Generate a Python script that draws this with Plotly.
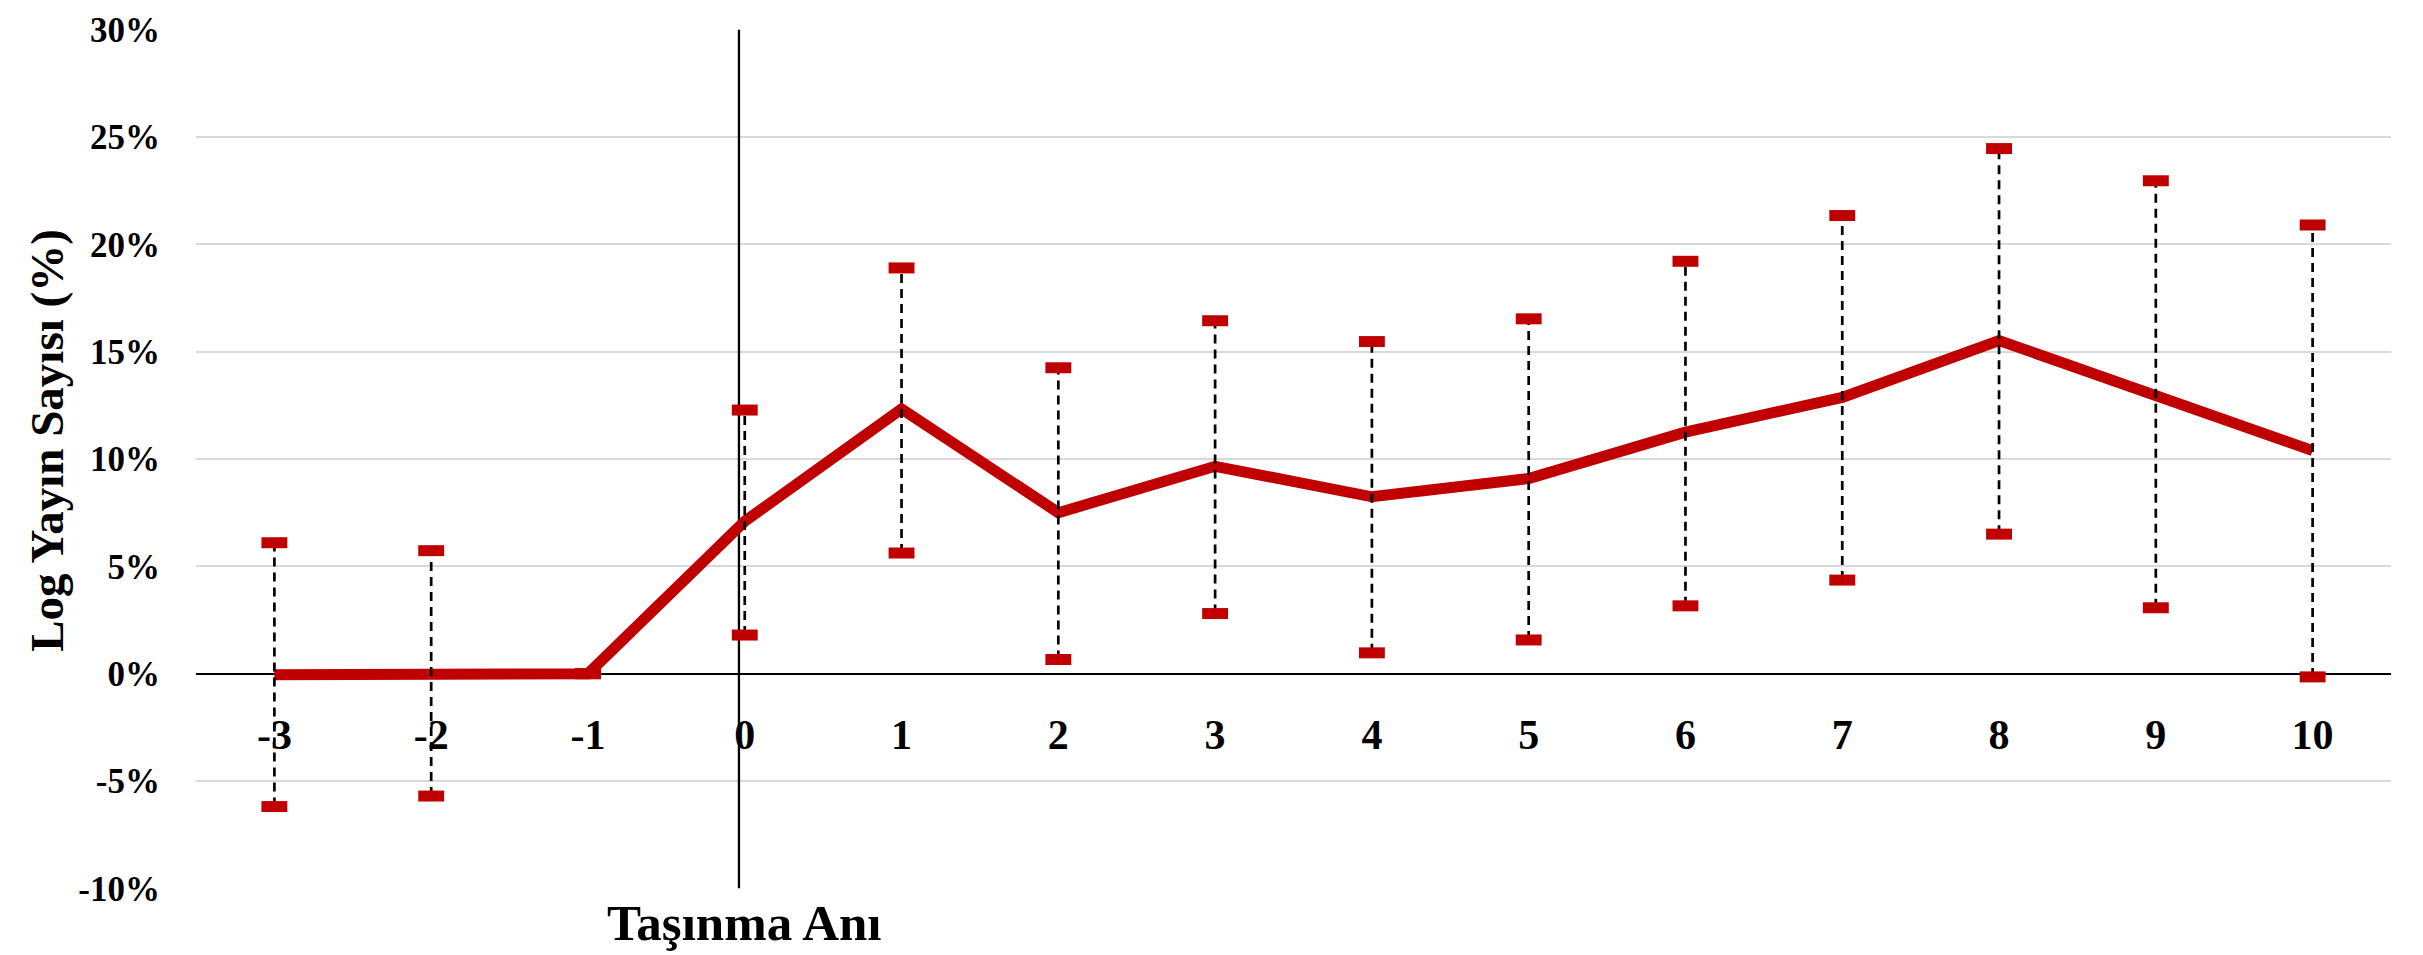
import plotly.graph_objects as go

# dönem (taşınmaya göre yıl) ve log yayın sayısı (%)
periyot = [-3, -2, -1, 0, 1, 2, 3, 4, 5, 6, 7, 8, 9, 10]
periyot_etiket = ["-3", "-2", "-1", "0", "1", "2", "3", "4", "5", "6", "7", "8", "9", "10"]
ortalama = [-0.05, 0.0, 0.0, 7.1, 12.33, 7.5, 9.66, 8.24, 9.09, 11.25, 12.87, 15.52, 12.97, 10.39]
alt_sinir = [-6.19, -5.70, 0.0, 1.80, 5.62, 0.66, 2.80, 0.97, 1.57, 3.16, 4.36, 6.50, 3.07, -0.15]
ust_sinir = [6.10, 5.73, 0.0, 12.28, 18.90, 14.25, 16.44, 15.47, 16.53, 19.21, 21.34, 24.46, 22.96, 20.90]

y_tick_vals = [-10, -5, 0, 5, 10, 15, 20, 25, 30]
y_tick_text = ["-10%", "-5%", "0%", "5%", "10%", "15%", "20%", "25%", "30%"]
y_aralik = [-10, 30]
tasinma_ani = 0

KIRMIZI = "#C00000"
FONT = "Liberation Serif"

fig = go.Figure()

# taşınma anı dikey çizgisi
fig.add_trace(go.Scatter(
    x=[tasinma_ani - 0.037, tasinma_ani - 0.037],
    y=y_aralik,
    mode="lines",
    line=dict(color="black", width=2.3),
    hoverinfo="skip"
))

# ortalama çizgisi
fig.add_trace(go.Scatter(
    x=periyot,
    y=ortalama,
    mode="lines",
    line=dict(color=KIRMIZI, width=11)
))

# güven aralığı (kesikli dikey çizgiler)
xs, ys = [], []
for p, a, u in zip(periyot, alt_sinir, ust_sinir):
    xs += [p, p, None]
    ys += [a, u, None]
fig.add_trace(go.Scatter(
    x=xs,
    y=ys,
    mode="lines",
    line=dict(color="black", width=2.7, dash="9px,6px"),
    hoverinfo="skip"
))

# uç işaretleri (line-ew uzunluğu = 1.4 * size)
fig.add_trace(go.Scatter(
    x=periyot + periyot,
    y=alt_sinir + ust_sinir,
    mode="markers",
    marker=dict(symbol="line-ew", size=18.5, line=dict(width=11, color=KIRMIZI))
))

# sayfa gövdesindeki 8px kenar boşluğu için boyut ve kenarlar biraz küçültüldü
fig.update_layout(
    width=2415,
    height=947,
    margin=dict(l=188, r=32, t=21, b=66),
    plot_bgcolor="white",
    paper_bgcolor="white",
    showlegend=False,
    xaxis=dict(
        range=[-3.5, 10.5],
        tickvals=periyot,
        ticktext=periyot_etiket,
        tickfont=dict(family=FONT, size=42, color="black", weight="bold"),
        showgrid=False,
        zeroline=False,
        showline=False,
        ticks="",
        anchor="free",
        position=0.25,
        ticklabelstandoff=32,
        automargin=False
    ),
    yaxis=dict(
        range=[y_aralik[0] - 0.03, y_aralik[1] + 0.03],
        tickvals=y_tick_vals,
        ticktext=y_tick_text,
        tickfont=dict(family=FONT, size=35, color="black", weight="bold"),
        showgrid=True,
        gridcolor="#D9D9D9",
        gridwidth=1.5,
        zeroline=True,
        zerolinecolor="black",
        zerolinewidth=2,
        showline=False,
        ticks="",
        ticklabelstandoff=35,
        ticklabeloverflow="allow",
        automargin=False
    ),
    annotations=[
        dict(
            text="Log Yayın Sayısı (%)",
            textangle=-90,
            xref="paper", yref="paper",
            x=-0.068, y=0.522,
            xanchor="center", yanchor="middle",
            showarrow=False,
            font=dict(family=FONT, size=47, color="black", weight="bold")
        ),
        dict(
            text="Taşınma Anı",
            xref="x", yref="paper",
            x=tasinma_ani, y=-0.0395,
            xanchor="center", yanchor="middle",
            showarrow=False,
            font=dict(family=FONT, size=51, color="black", weight="bold")
        )
    ]
)

fig.write_html("out.html")
